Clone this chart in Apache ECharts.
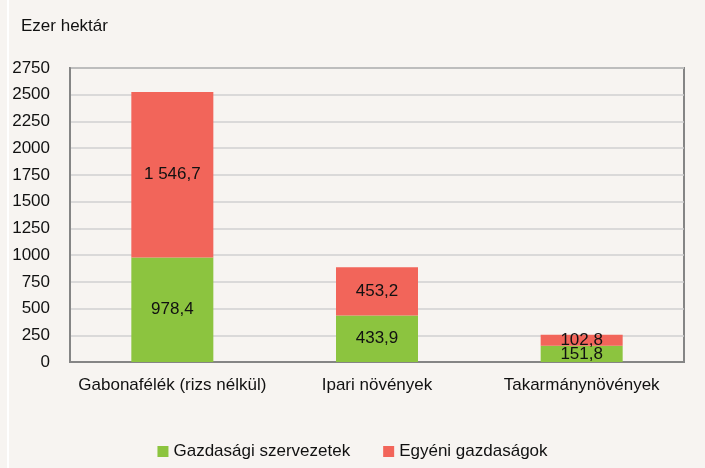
<!DOCTYPE html>
<html lang="hu">
<head>
  <meta charset="UTF-8">
  <title>Vetésterület gazdaságtípusok szerint</title>
  <script src="https://cdn.jsdelivr.net/npm/echarts@6/dist/echarts.min.js"></script>
  <style>
    html, body { margin: 0; padding: 0; background: #f7f4f1; }
    #chart { width: 705px; height: 468px; }
  </style>
</head>
<body>
  <div id="chart"></div>
  <script>
    const categories = ['Gabonafélék (rizs nélkül)', 'Ipari növények', 'Takarmánynövények'];
    const gazdasagi = [978.4, 433.9, 151.8];
    const egyeni = [1546.7, 453.2, 102.8];
    const yTicks = { min: 0, max: 2750, interval: 250 };

    // magyar számformátum: szóköz ezres elválasztó, vessző tizedesjel
    function huNum(v) {
      const parts = v.toFixed(1).split('.');
      return parts[0].replace(/\B(?=(\d{3})+(?!\d))/g, ' ') + ',' + parts[1];
    }

    const font = '"Liberation Sans", Arial, sans-serif';
    const fs = 17;
    const chart = echarts.init(document.getElementById('chart'));

    const labelOpt = {
      show: true,
      position: 'inside',
      color: '#111',
      fontSize: fs,
      fontFamily: font,
      formatter: p => huNum(p.value)
    };

    chart.setOption({
      backgroundColor: '#f7f4f1',
      textStyle: { fontFamily: font },
      title: {
        text: 'Ezer hektár',
        left: 16,
        top: 13,
        textStyle: { fontSize: fs, fontWeight: 'normal', color: '#111', fontFamily: font }
      },
      graphic: [{
        type: 'rect',
        shape: { x: 7, y: 0, width: 2, height: 468 },
        style: { fill: '#ffffff' },
        silent: true
      }],
      grid: {
        left: 70, right: 21, top: 68, bottom: 106,
        show: true,
        borderColor: '#858585',
        borderWidth: 2,
        containLabel: false
      },
      legend: {
        bottom: 3,
        left: 'center',
        itemWidth: 11,
        itemHeight: 11,
        itemGap: 33,
        icon: 'rect',
        textStyle: { fontSize: fs, color: '#111', fontFamily: font },
        data: ['Gazdasági szervezetek', 'Egyéni gazdaságok']
      },
      xAxis: {
        type: 'category',
        data: categories,
        axisLine: { lineStyle: { color: '#858585', width: 2 } },
        axisTick: { show: false },
        axisLabel: { color: '#111', fontSize: fs, margin: 15, interval: 0, fontFamily: font }
      },
      yAxis: {
        type: 'value',
        min: yTicks.min,
        max: yTicks.max,
        interval: yTicks.interval,
        axisLine: { show: true, lineStyle: { color: '#858585', width: 2 } },
        axisTick: { show: false },
        axisLabel: { color: '#111', fontSize: fs, margin: 20, fontFamily: font, formatter: v => String(v) },
        splitLine: { lineStyle: { color: '#d0d0d0', width: 1.5 } }
      },
      series: [
        {
          name: 'Gazdasági szervezetek',
          type: 'bar',
          stack: 'total',
          barWidth: 82,
          itemStyle: { color: '#8cc43f' },
          label: labelOpt,
          data: gazdasagi
        },
        {
          name: 'Egyéni gazdaságok',
          type: 'bar',
          stack: 'total',
          barWidth: 82,
          itemStyle: { color: '#f2655a' },
          label: labelOpt,
          data: egyeni
        }
      ]
    });
  </script>
</body>
</html>
